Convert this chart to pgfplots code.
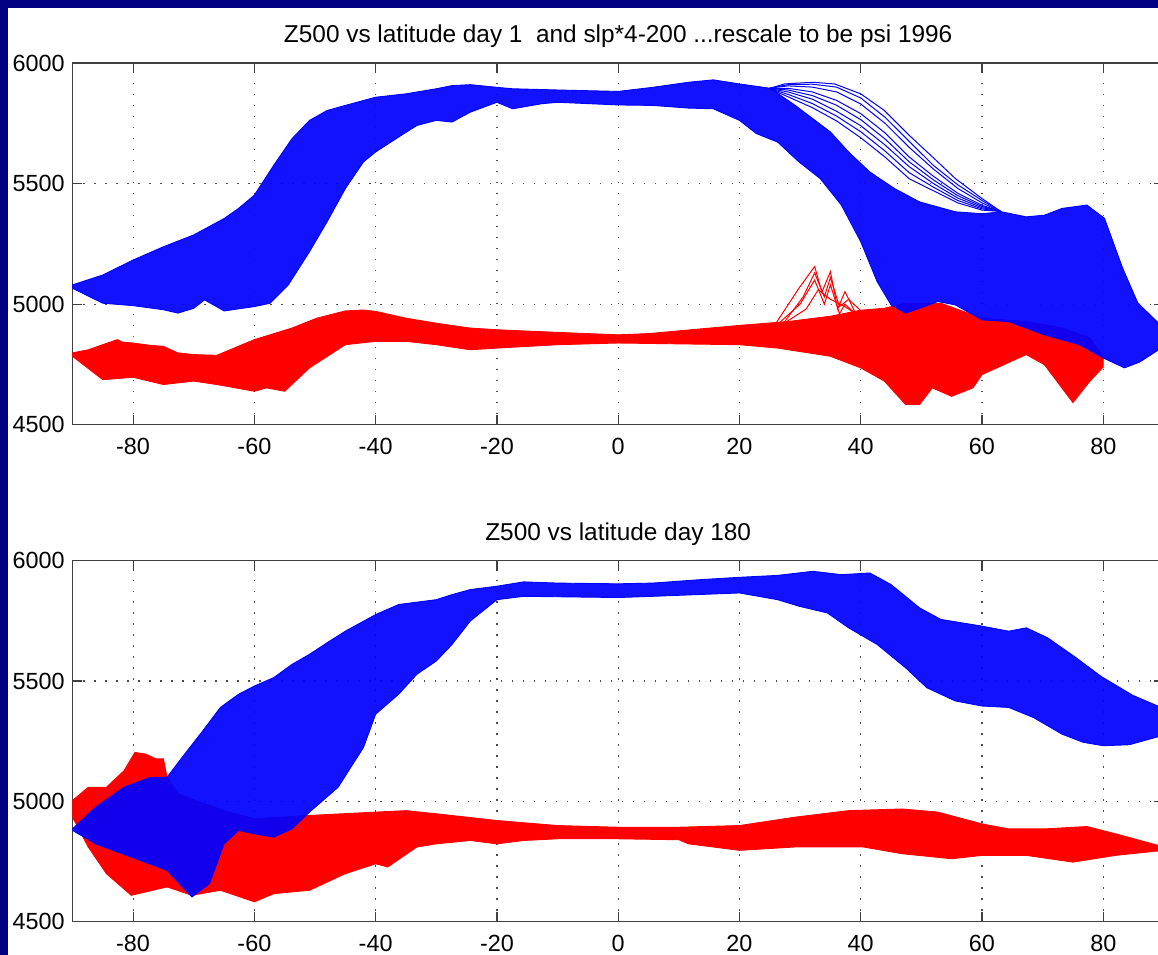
\documentclass[border={0pt 0pt -3.25pt 0pt}]{standalone}
\usepackage{pgfplots}
\pgfplotsset{compat=1.18}
\usepackage{fontspec}
\setmainfont{Liberation Sans}
\definecolor{navybg}{RGB}{0,0,128}
\definecolor{mblue}{RGB}{0,0,255}
\definecolor{mred}{RGB}{255,0,0}
\pgfplotsset{
  every axis title/.style={at={(0.5,1)}, anchor=base, yshift=10.3pt, font=\fontsize{12.2}{14}\selectfont},
  mstyle/.style={
    scale only axis, width=546pt,
    xmin=-90, xmax=90, ymin=4500, ymax=6000,
    xtick={-80,-60,-40,-20,0,20,40,60,80},
    ytick={4500,5000,5500,6000},
    xtick pos=both, ytick pos=both,
    tick align=inside, major tick length=5pt,
    tick style={black!75, line width=0.6pt},
    axis line style={black!75, line width=0.6pt},
    grid=major,
    major grid style={black!70, line width=0.6pt, dash pattern=on 0.6pt off 4.9pt},
    /pgf/number format/1000 sep={},
    /pgf/number format/assume math mode=true,
    every tick label/.append style={font=\fontsize{11.7}{14}\selectfont, text=black},
    xticklabel style={anchor=base, yshift=-15pt, inner sep=0pt},
    yticklabel style={anchor=east, xshift=-3.75pt, inner sep=0pt},
  },
  bl/.style={mblue, line width=0.5pt},
  rl/.style={mred, line width=0.5pt},
  bf/.style={fill=mblue, draw=mblue, line width=0.45pt, fill opacity=0.93},
  rf/.style={fill=mred, draw=mred, line width=0.45pt},
}
\begin{document}
\begin{tikzpicture}
\fill[navybg] (0,0) rectangle (582.25pt,477.5pt);
\fill[white] (4pt,0) rectangle (582.25pt,473.5pt);

% ---------------- top panel ----------------
\begin{axis}[mstyle, at={(36.25pt,265pt)}, anchor=south west, height=181pt,
  title={Z500 vs latitude day 1\ \ and slp*4-200 ...rescale to be psi 1996}]
% red (slp) bundle: upper envelope, then lower envelope back
\addplot[rf] coordinates {(-90,4798) (-87.4,4811) (-85,4832) (-82.6,4853) (-81.8,4843) (-80,4839) (-77.4,4830) (-75,4825) (-72.6,4798) (-70,4791) (-66.2,4788) (-60,4853) (-53.8,4901) (-49.7,4942) (-45,4972) (-42,4976) (-40,4970) (-35,4942) (-30,4921) (-24.4,4901) (-20,4894) (-10,4883) (0,4873) (5,4878) (20,4912) (28,4928) (35,4950) (40,4975) (43.9,4983) (47.4,5004) (53.2,5004) (60,4942) (67.3,4928) (73.2,4901) (77.8,4860) (80,4780)
 (80,4740) (77.8,4681) (75,4592) (70.3,4749) (67.3,4791) (60,4708) (58.5,4653) (55,4618) (51.8,4653) (49.7,4584) (47.4,4584) (43.9,4681) (40,4736) (35,4784) (26.3,4818) (20,4832) (0,4839) (-10,4832) (-20,4818) (-24.4,4811) (-30,4832) (-35,4846) (-40,4846) (-45,4832) (-50.9,4736) (-55,4639) (-58,4653) (-60,4639) (-66.2,4667) (-70,4681) (-75,4667) (-80,4697) (-85,4687) (-90,4784)} -- cycle;
\addplot[rl] coordinates {(26,4920) (29.8,5066) (32.4,5156) (33.6,5050) (35,5135) (36.2,4980) (37.4,5052) (39.2,4960) (42,4950)};
\addplot[rl] coordinates {(26,4910) (30,5000) (32.4,5100) (34,5000) (35,5080) (36.5,4960) (37.4,5000) (40,4940)};
\addplot[rl] coordinates {(27,4915) (31,4980) (33,5060) (35,5020) (37.4,4990) (40,4945)};
\addplot[rl] coordinates {(27,4912) (30.5,5030) (32.4,5130) (34,5030) (35,5110) (36.5,4990) (38,5020) (41,4950)};
% blue (Z500) bundle: dense core
\addplot[bf] coordinates {(-90,5080) (-85,5121) (-80,5183) (-75,5238) (-70,5287) (-65,5355) (-62.6,5397) (-60,5452) (-56.8,5576) (-53.8,5686) (-50.9,5762) (-48,5803) (-45,5824) (-40,5858) (-35,5872) (-30,5893) (-27.4,5906) (-24.4,5910) (-20,5899) (-17.4,5893) (-10,5888) (0,5882) (5.7,5899) (11.6,5920) (15.7,5930) (20,5913) (25.1,5895) (29.2,5824) (32.1,5769) (35,5714) (38,5631) (41.5,5548) (45.6,5479) (49.7,5424) (55.6,5383) (60,5375) (63.2,5383) (67.3,5362) (70.3,5369) (73.2,5397) (77.3,5411) (80.2,5356) (83.2,5149) (85.7,5005) (90,4900)
 (90,4825) (86,4760) (83.5,4736) (80,4777) (76.1,4832) (70.3,4873) (64.4,4928) (60,4935) (55.6,4997) (52.7,5011) (49.7,4983) (47.4,4963) (45,4997) (42.7,5094) (40,5259) (36.8,5411) (33.3,5521) (29.8,5590) (26.3,5672) (22.8,5707) (20,5762) (15.7,5810) (11.6,5813) (5.7,5824) (0,5826) (-10,5837) (-12.6,5831) (-17.4,5810) (-20,5837) (-24.4,5796) (-27.4,5755) (-30,5762) (-33.2,5741) (-36.2,5693) (-40,5631) (-42,5590) (-45,5479) (-48,5342) (-50.9,5218) (-54.4,5080) (-57.4,5004) (-60,4990) (-65,4972) (-68.2,5018) (-70,4983) (-72.6,4963) (-75,4977) (-80,4994) (-85,5004) (-90,5066)} -- cycle;
% blue: separate lines above the core, 25N to 63N
\addplot[bl] coordinates {(25.1,5895) (27.4,5913) (32.1,5920) (35.7,5913) (40,5872) (43.9,5803) (48,5700) (52.7,5590) (55.6,5521) (60,5438) (63.2,5383)};
\addplot[bl] coordinates {(25,5896) (28,5910) (32,5912) (36,5900) (40,5855) (44,5775) (48,5675) (52,5575) (56,5495) (60,5430) (63,5385)};
\addplot[bl] coordinates {(25,5896) (28,5905) (32,5900) (36,5880) (40,5830) (44,5750) (48,5650) (52,5560) (56,5480) (60,5420) (63,5385)};
\addplot[bl] coordinates {(25,5895) (28,5895) (32,5880) (36,5845) (40,5790) (44,5710) (48,5610) (52,5530) (56,5460) (60,5410) (63,5385)};
\addplot[bl] coordinates {(25,5894) (28,5888) (32,5865) (36,5825) (40,5765) (44,5685) (48,5590) (52,5515) (56,5450) (60,5405) (63,5385)};
\addplot[bl] coordinates {(25,5893) (28,5880) (32,5850) (36,5800) (40,5740) (44,5660) (48,5570) (52,5500) (56,5440) (60,5400) (63,5385)};
\addplot[bl] coordinates {(25,5893) (28,5870) (32,5832) (36,5780) (40,5715) (44,5635) (48,5545) (52,5485) (56,5430) (60,5395) (63,5385)};
\addplot[bl] coordinates {(25,5892) (28,5860) (32,5815) (36,5760) (40,5690) (44,5610) (48,5520) (52,5470) (56,5420) (60,5390) (63,5385)};
\end{axis}

% ---------------- bottom panel ----------------
\begin{axis}[mstyle, at={(36.25pt,16.5pt)}, anchor=south west, height=180.5pt,
  title={Z500 vs latitude day 180}]
\addplot[rf] coordinates {(-90,5003) (-87.4,5058) (-84.4,5058) (-81.5,5127) (-79.7,5203) (-77.9,5196) (-76.2,5176) (-75,5176) (-74.4,5100) (-72.6,5031) (-65,4960) (-60,4927) (-50.9,4941) (-40,4955) (-35,4961) (-30,4948) (-20,4920) (-10,4899) (0,4892) (10,4892) (20,4899) (29.2,4934) (38,4961) (46.8,4968) (52.7,4955) (60,4906) (64.4,4885) (70.3,4885) (77.3,4895) (82,4865) (90,4810)
 (90,4796) (82,4775) (75,4747) (67.3,4775) (60,4775) (55,4761) (46.8,4782) (40.4,4810) (29.2,4810) (20,4796) (11.6,4823) (10,4840) (0,4844) (-10,4844) (-15.6,4837) (-20,4823) (-24.4,4837) (-30,4823) (-33.2,4810) (-38,4727) (-40,4740) (-45,4699) (-50.9,4630) (-56.8,4616) (-60,4582) (-65.6,4630) (-70.3,4609) (-74.4,4644) (-80.3,4609) (-84.4,4699) (-87.4,4810) (-90,4934)} -- cycle;
\addplot[bf] coordinates {(-90,4885) (-86.2,4975) (-81.5,5058) (-77.4,5097) (-74.4,5100) (-71.5,5196) (-68.5,5293) (-65.6,5390) (-62.6,5445) (-60,5479) (-56.8,5514) (-53.8,5569) (-50.9,5611) (-48,5659) (-45,5707) (-40,5776) (-36.2,5818) (-30,5838) (-27.4,5859) (-24.4,5880) (-20,5894) (-15.6,5912) (-10,5907) (0,5904) (5.7,5907) (13.4,5921) (20,5931) (26.3,5939) (32.1,5956) (36.8,5942) (41.5,5949) (45,5901) (49.7,5804) (53.2,5756) (60,5728) (64.4,5707) (67.3,5721) (70.8,5680) (75.5,5597) (79.7,5518) (84.9,5440) (90,5385)
 (90,5275) (84.3,5235) (80,5231) (76.7,5245) (73.2,5279) (68.5,5348) (64.4,5390) (60,5396) (55.6,5417) (50.9,5472) (47.4,5555) (42.7,5652) (38,5721) (34.5,5783) (29.8,5811) (26.3,5838) (20,5866) (5.7,5852) (0,5847) (-15.6,5852) (-20,5838) (-24.4,5749) (-27.4,5652) (-30,5583) (-33.2,5528) (-36.2,5445) (-40,5362) (-42,5224) (-46.2,5058) (-50.9,4955) (-53.8,4886) (-56.8,4851) (-60,4865) (-62.6,4879) (-65,4823) (-67.4,4658) (-70.3,4602) (-74.4,4713) (-80.3,4768) (-86.2,4823) (-90,4879)} -- cycle;
\end{axis}
\end{tikzpicture}
\end{document}
